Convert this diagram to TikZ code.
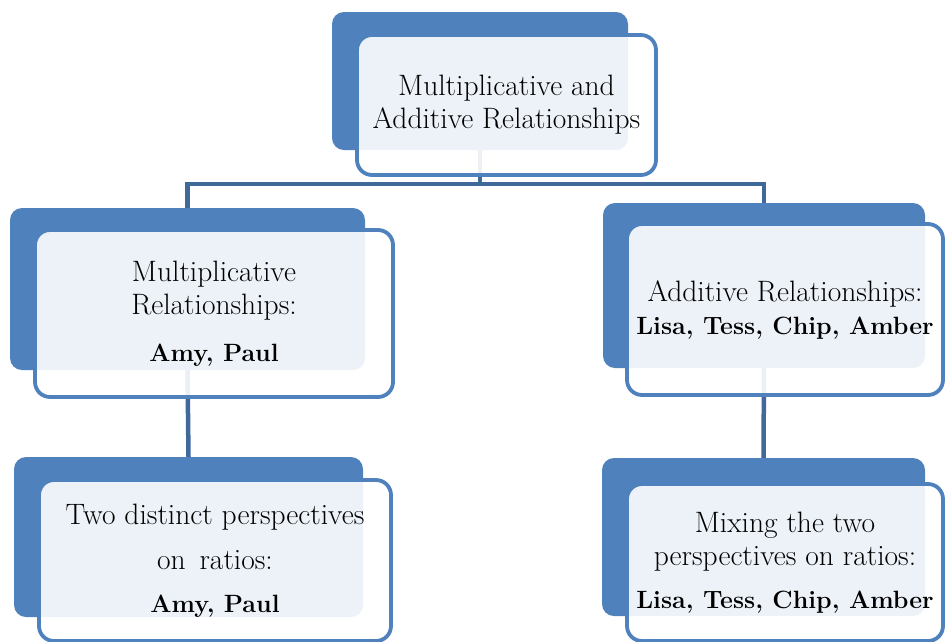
\documentclass[tikz,border=0pt]{standalone}
\usetikzlibrary{calc}

\definecolor{boxblue}{RGB}{79,129,189}
\definecolor{linkblue}{RGB}{65,104,155}

\tikzset{
  backbox/.style={fill=boxblue, draw=none, rounded corners=12pt, inner sep=0pt},
  frontbox/.style={draw=boxblue, line width=3.8pt, fill=white, fill opacity=0.9,
    text opacity=1, rounded corners=15pt, inner sep=0pt, align=center,
    font=\fontsize{29.5}{33}\selectfont},
  link/.style={draw=linkblue, line width=4.5pt}
}
\newcommand{\kidnames}[1]{{\fontsize{25}{33}\selectfont\bfseries #1}}

\begin{document}
\begin{tikzpicture}[x=1pt,y=-1pt]

   \useasboundingbox (0,0) rectangle (946,641);
   \clip (0,0) rectangle (946,641);

   % back boxes
   \node[backbox, minimum width=296pt, minimum height=138pt] (topb)  at (480,81)      {};
   \node[backbox, minimum width=355pt, minimum height=162pt] (multb) at (187.5,289)   {};
   \node[backbox, minimum width=322pt, minimum height=165pt] (addb)  at (764,285.5)   {};
   \node[backbox, minimum width=349pt, minimum height=160pt] (twob)  at (188.5,537)   {};
   \node[backbox, minimum width=323pt, minimum height=158pt] (mixb)  at (763.5,537)   {};

   \coordinate (hub) at (480,184);

   \draw[link] (topb.south) -- (hub);
   \draw[link] (hub) -| (multb.north);
   \draw[link] (hub) -| (addb.north);
   \draw[link] (multb.south) -- (twob.north);
   \draw[link] (addb.south) -- (mixb.north);

   % front boxes
   \node[frontbox, minimum width=299pt, minimum height=140pt] (topf) at (506.5,105)
      {Multiplicative and\\Additive Relationships};
   \node[frontbox, minimum width=358pt, minimum height=167pt] (multf) at (214,313.5)
      {Multiplicative\\Relationships:\\[14pt]\kidnames{Amy, Paul}};
   \node[frontbox, minimum width=316pt, minimum height=171pt] (addf) at (785,309.5)
      {Additive Relationships:\\\kidnames{Lisa, Tess, Chip, Amber}};
   \node[frontbox, minimum width=352pt, minimum height=161pt] (twof) at (215,560.5)
      {Two distinct perspectives\\[12pt]on\, ratios:\\[10pt]\kidnames{Amy, Paul}};
   \node[frontbox, minimum width=316pt, minimum height=157pt] (mixf) at (785,562.5)
      {Mixing the two\\perspectives on ratios:\\[10pt]\kidnames{Lisa, Tess, Chip, Amber}};

\end{tikzpicture}
\end{document}
